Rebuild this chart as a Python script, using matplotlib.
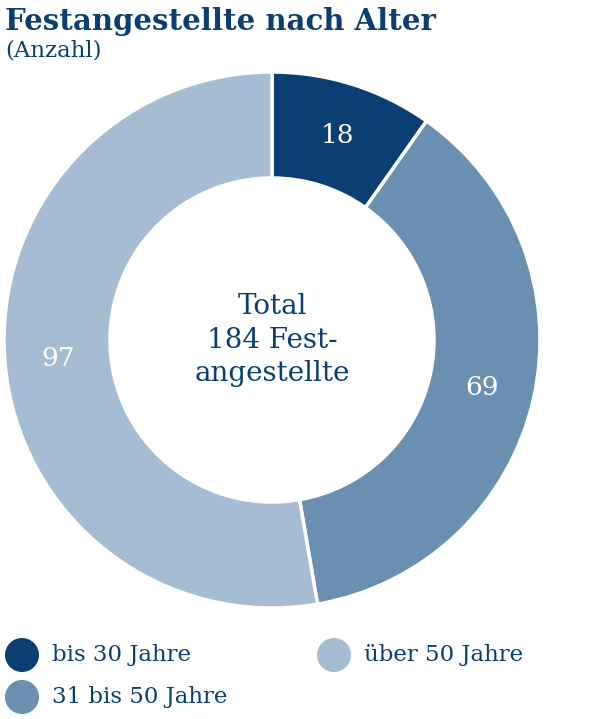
import matplotlib
matplotlib.use('Agg')
import matplotlib.pyplot as plt
import numpy as np

# 数据
categories = ['bis 30 Jahre', '31 bis 50 Jahre', 'über 50 Jahre']
values = [18, 69, 97]
colors = ['#0b3f74', '#6a8fb1', '#a6bcd2']
total = sum(values)

navy = '#0b3f74'
plt.rcParams['font.family'] = ['DejaVu Serif', 'DejaVu Sans']

W, H = 600, 719
fig = plt.figure(figsize=(W / 100, H / 100), dpi=100)
ax = fig.add_axes([0, 0, 1, 1])

cx, cy = 272, H - 340
r_out, r_in = 268, 162

wedges, _ = ax.pie(values, center=(cx, cy), radius=r_out, startangle=90,
                   counterclock=False, colors=colors,
                   wedgeprops=dict(width=r_out - r_in, edgecolor='white', linewidth=2.5))

# 环上的数字
r_lab = (r_out + r_in) / 2
ang = 90.0
for v in values:
    mid = ang - v / total * 360 / 2
    ax.text(cx + r_lab * np.cos(np.deg2rad(mid)), cy + r_lab * np.sin(np.deg2rad(mid)),
            str(v), ha='center', va='center', color='white', fontsize=19)
    ang -= v / total * 360

ax.text(cx, cy, f'Total\n{total} Fest-\nangestellte', ha='center', va='center',
        color=navy, fontsize=20, linespacing=1.3)

# 标题
ax.text(5, H - 22, 'Festangestellte nach Alter', ha='left', va='center',
        color=navy, fontsize=21, fontweight='bold')
ax.text(5, H - 51, '(Anzahl)', ha='left', va='center', color=navy, fontsize=16.5)

# 图例
leg_pos = [(22, 655), (22, 697), (334, 655)]
for (lx, ly), lab, c in zip(leg_pos, categories, colors):
    ax.scatter([lx], [H - ly], s=600, color=c, edgecolors='none')
    ax.text(lx + 30, H - ly, lab, ha='left', va='center', color=navy, fontsize=16.5)

ax.set_xlim(0, W)
ax.set_ylim(0, H)
ax.set_aspect('equal')
ax.axis('off')

fig.savefig('out.png', dpi=100)
